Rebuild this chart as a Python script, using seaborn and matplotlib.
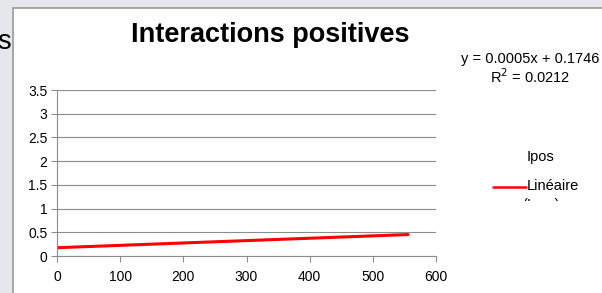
import matplotlib
matplotlib.use("Agg")
import matplotlib.pyplot as plt
import seaborn as sns
import pandas as pd
from matplotlib.patches import Rectangle
from matplotlib.lines import Line2D

sns.set_style("white")
plt.rcParams['font.family'] = ['Liberation Sans', 'DejaVu Sans']
plt.rcParams['text.color'] = 'black'

# Data: linear trend line of Ipos
x_vals = [0, 556]
y_vals = [0.1746, 0.4526]
series = ["Linéaire (Ipos)", "Linéaire (Ipos)"]
y_ticks = [0, 0.5, 1, 1.5, 2, 2.5, 3, 3.5]
x_ticks = [0, 100, 200, 300, 400, 500, 600]
title = "Interactions positives"
eq_text = "y = 0.0005x + 0.1746"
r2_text = "R$^2$ = 0.0212"

df = pd.DataFrame({"x": x_vals, "y": y_vals, "s": series})

W, H = 602, 293
fig = plt.figure(figsize=(W / 100, H / 100), dpi=100)
fig.patch.set_facecolor("#e4e7eb")

# white chart panel
panel = Rectangle((13 / W, -0.01), 1 - 13 / W + 0.01, (H - 8) / H + 0.01, transform=fig.transFigure,
                  facecolor="white", edgecolor="#9a9a9a", linewidth=1.2, zorder=-1)
fig.patches.append(panel)

ax = fig.add_axes([57 / W, (H - 256) / H, (436 - 57) / W, (256 - 90) / H])
ax.set_facecolor("none")
sns.lineplot(data=df, x="x", y="y", ax=ax, color="#ff0000", linewidth=2.2, legend=False)

ax.set_xlim(0, 600)
ax.set_ylim(0, 3.5)
ax.set_xticks(x_ticks)
ax.set_xticklabels([str(v) for v in x_ticks])
ax.set_yticks(y_ticks)
ax.set_yticklabels(["0", "0.5", "1", "1.5", "2", "2.5", "3", "3.5"])
ax.grid(axis="y", color="#8c8c8c", linewidth=0.8)
ax.grid(axis="x", visible=False)
for s in ["top", "right"]:
    ax.spines[s].set_visible(False)
for s in ["left", "bottom"]:
    ax.spines[s].set_color("#8c8c8c")
    ax.spines[s].set_linewidth(0.8)
ax.tick_params(axis="both", which="both", direction="out", length=4, width=0.8,
               color="#8c8c8c", labelsize=10, labelcolor="black", pad=3, left=True, bottom=True)
ax.tick_params(axis="x", pad=6)
ax.set_xlabel("")
ax.set_ylabel("")

fig.text(270 / W, 1 - 35 / H, title, ha="center", va="center", fontsize=19.5, fontweight="bold")
fig.text(11 / W, 1 - 42 / H, "s", ha="right", va="center", fontsize=19.5)
fig.text(530 / W, 1 - 59 / H, eq_text, ha="center", va="center", fontsize=10.5)
fig.text(530 / W, 1 - 77 / H, r2_text, ha="center", va="center", fontsize=10.5)

# legend
fig.text(541 / W, 1 - 157 / H, "Ipos", ha="center", va="center", fontsize=10.5)
fig.lines.append(Line2D([493 / W, 526 / W], [1 - 187 / H, 1 - 187 / H], transform=fig.transFigure,
                        color="#ff0000", linewidth=1.8))
fig.text(527 / W, 1 - 186 / H, "Linéaire", ha="left", va="center", fontsize=10.5)
clip = Rectangle((480 / W, 1 - 201 / H), 120 / W, 3 / H, transform=fig.transFigure,
                 facecolor="none", edgecolor="none")
fig.patches.append(clip)
t = fig.text(541 / W, 1 - 205 / H, "(Ipos)", ha="center", va="center", fontsize=10.5)
t.set_clip_path(clip)
t.set_clip_on(True)

fig.savefig("out.png", dpi=100)
